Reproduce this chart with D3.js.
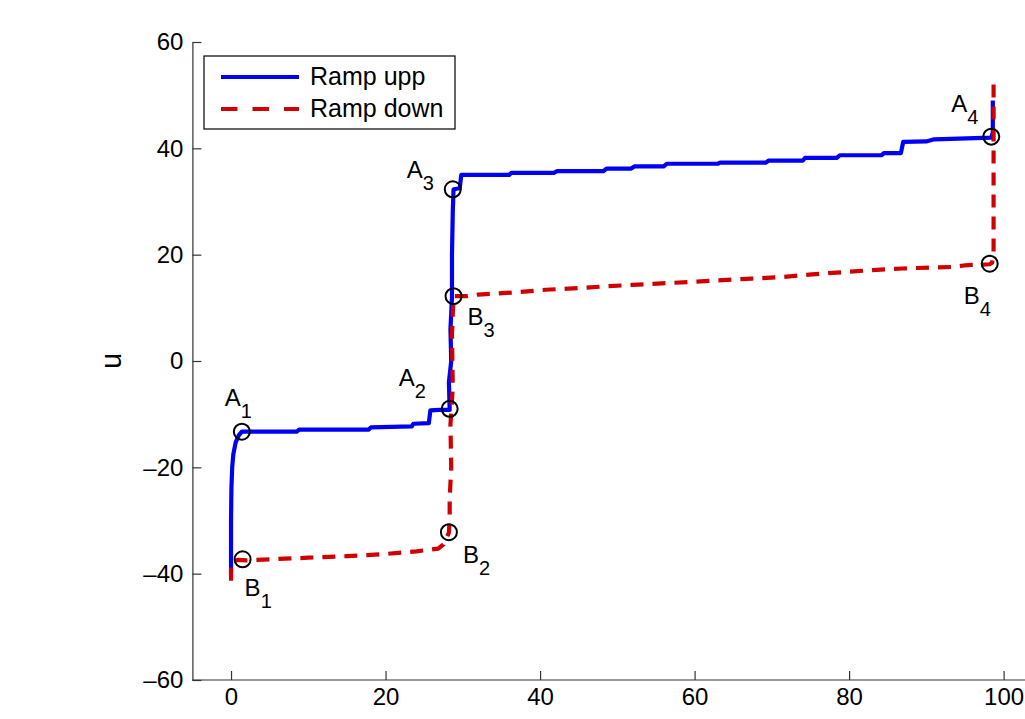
<!DOCTYPE html>
<html>
<head>
<meta charset="utf-8">
<script src="https://cdn.jsdelivr.net/npm/d3@7"></script>
<style>
  html, body { margin: 0; padding: 0; background: #fff; }
  svg { display: block; }
  text { font-family: "Liberation Sans", Arial, Helvetica, sans-serif; fill: #000; }
</style>
</head>
<body>
<svg id="chart" width="1025" height="719"></svg>
<script>
// ---- data ----
const xTicks = [0, 20, 40, 60, 80, 100];
const yTicks = [-60, -40, -20, 0, 20, 40, 60];
const seriesNames = ["Ramp upp", "Ramp down"];

// Ramp upp (solid blue)
const upX = [0, 0, 0.05, 0.15, 0.3, 0.6, 1.0, 1.4, 8.5, 8.8, 17.8, 18.1, 23.4, 23.6, 25.6, 25.8, 27, 28.3,
             28.2, 28.5, 28.4, 28.6, 28.6, 28.7, 28.8, 29.6, 29.8,
             36.0, 36.3, 41.8, 42.2, 48.2, 48.6, 51.8, 52.2, 56.0, 56.4, 63.0, 63.3, 69.2, 69.6, 74.0, 74.3,
             78.4, 78.8, 84.2, 84.5, 86.7, 87.0, 90.0, 91.0, 98.4, 98.6, 98.6];
const upY = [-40, -30, -24, -20, -17.5, -15.3, -14, -13.3, -13.3, -12.9, -12.9, -12.5, -12.3, -11.8, -11.7, -9.3, -9.2, -9.2,
             -4, 0, 6, 12, 20, 28, 32.3, 32.5, 35.0,
             35.0, 35.4, 35.4, 35.7, 35.7, 36.2, 36.2, 36.6, 36.6, 37.1, 37.1, 37.3, 37.3, 37.7, 37.7, 38.2,
             38.2, 38.7, 38.7, 39.1, 39.1, 41.2, 41.3, 41.7, 42.0, 43, 49];

// Ramp down (dashed red)
const downX = [98.7, 98.7, 98.5, 98.2, 95.0, 93.8, 90.8, 86.9, 83.0, 79.1, 75.2, 71.4, 67.4, 63.6, 60.0, 55.8, 51.9, 48.0, 45.0, 40.7, 36.8, 32, 30.5, 28.8,
               28.6, 28.7, 28.4, 28.5, 28.3, 28.3, 28.2, 27.5, 26.8, 24, 20, 15, 10, 5, 2, 1, 0.2, 0, 0];
const downY = [52, 20, 18.5, 18.2, 18.0, 17.7, 17.6, 17.4, 17.1, 16.7, 16.3, 15.8, 15.5, 15.2, 14.9, 14.6, 14.3, 14.0, 13.7, 13.4, 12.9, 12.5, 12.2, 12.2,
               5, -5, -12, -20, -26, -30, -32.3, -34.5, -35.3, -35.8, -36.3, -36.7, -37, -37.3, -37.5, -37.4, -37.6, -39, -43];

// Marked points
const markNames = ["A1", "A2", "A3", "A4", "B1", "B2", "B3", "B4"];
const markX = [1.4, 28.3, 28.7, 98.4, 1.5, 28.2, 28.8, 98.2];
const markY = [-13.3, -9.0, 32.3, 42.2, -37.3, -32.2, 12.2, 18.3];

// ---- layout ----
const labelOffsets = [[-17, -26], [-51, -23], [-46, -11], [-40, -25], [2, 37], [14, 31], [14, 29], [-26, 40]];
const W = 1025, H = 719;
const x = d3.scaleLinear().domain([-5, 105]).range([192.4, 192.4 + 110 * 7.726]);
const y = d3.scaleLinear().domain([-60, 60]).range([680, 42]);

const svg = d3.select("#chart");

// axes
const fmt = d => (d < 0 ? "\u2013" + Math.abs(d) : String(d));
const xAxis = d3.axisBottom(x).tickValues(xTicks).tickSizeInner(-9).tickSizeOuter(0).tickPadding(8).tickFormat(fmt);
const yAxis = d3.axisLeft(y).tickValues(yTicks).tickSizeInner(-9).tickSizeOuter(0).tickPadding(9).tickFormat(fmt);

const gx = svg.append("g").attr("transform", `translate(0,${y(-60)})`).call(xAxis);
const gy = svg.append("g").attr("transform", `translate(${x(-5)},0)`).call(yAxis);
[gx, gy].forEach(g => {
  g.select(".domain").attr("stroke", "#333").attr("stroke-width", 1.2);
  g.selectAll(".tick line").attr("stroke", "#333").attr("stroke-width", 1.2);
  g.selectAll(".tick text").attr("font-size", 24).attr("font-family", "Liberation Sans, Arial, sans-serif").attr("fill", "#000");
});
gx.select(".domain").attr("d", `M${x(-5)},0H${W}`);

// y label
svg.append("text")
  .attr("transform", `translate(121,${y(0)}) rotate(-90)`)
  .attr("text-anchor", "middle")
  .attr("font-size", 29)
  .text("u");

// lines
const line = d3.line().x(d => x(d[0])).y(d => y(d[1]));
const upData = upX.map((v, i) => [v, upY[i]]);
const downData = downX.map((v, i) => [v, downY[i]]);

svg.append("path").datum(upData)
  .attr("d", line).attr("fill", "none")
  .attr("stroke", "#0000f5").attr("stroke-width", 4.2)
  .attr("stroke-linejoin", "round");

svg.append("path").datum(downData)
  .attr("d", line).attr("fill", "none")
  .attr("stroke", "#d00000").attr("stroke-width", 4.2)
  .attr("stroke-dasharray", "13,9");

// markers
svg.selectAll("circle.mk").data(markX).enter().append("circle")
  .attr("class", "mk")
  .attr("cx", d => x(d))
  .attr("cy", (d, i) => y(markY[i]))
  .attr("r", 8)
  .attr("fill", "none").attr("stroke", "#000").attr("stroke-width", 2);

markNames.forEach((n, i) => {
  const t = svg.append("text")
    .attr("x", x(markX[i]) + labelOffsets[i][0])
    .attr("y", y(markY[i]) + labelOffsets[i][1])
    .attr("font-size", 24);
  t.append("tspan").text(n[0]);
  t.append("tspan").attr("dy", 12).attr("font-size", 20).text(n.slice(1));
});

// legend
const lg = svg.append("g");
lg.append("rect").attr("x", 204).attr("y", 56).attr("width", 251).attr("height", 73)
  .attr("fill", "#fff").attr("stroke", "#000").attr("stroke-width", 1.2);
const legColors = ["#0000f5", "#d00000"];
seriesNames.forEach((s, i) => {
  const yy = 77 + i * 32;
  lg.append("line").attr("x1", 221).attr("x2", 299).attr("y1", yy).attr("y2", yy)
    .attr("stroke", legColors[i]).attr("stroke-width", 4.2)
    .attr("stroke-dasharray", i === 1 ? "16.5,15" : null);
  lg.append("text").attr("x", 310).attr("y", yy + 8).attr("font-size", 25).text(s);
});
</script>
</body>
</html>
